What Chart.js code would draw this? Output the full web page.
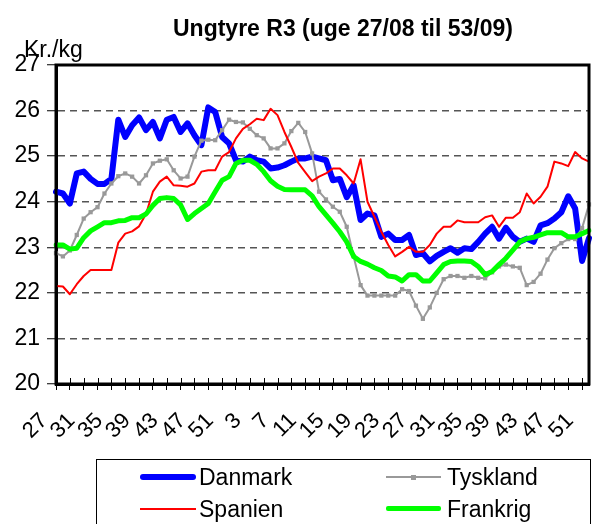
<!DOCTYPE html>
<html>
<head>
<meta charset="utf-8">
<script src="https://cdn.jsdelivr.net/npm/chart.js@4"></script>
<style>
  body { margin: 0; background: #fff; }
  #wrap { position: relative; width: 593px; height: 524px; overflow: hidden;
          font-family: "Liberation Sans", Arial, sans-serif; color: #000; }
  #chart { position: absolute; left: 0; top: 0; }
  .txt { position: absolute; font-size: 23px; line-height: 26px; white-space: nowrap; }
  .title { left: 0; width: 686px; top: 15px; text-align: center; font-weight: bold; }
  .legend { position: absolute; left: 96px; top: 459px; width: 493px; height: 90px; border: 1px solid #000; }
  .sw { position: absolute; }
</style>
</head>
<body>
<div id="wrap">
  <canvas id="chart" width="593" height="524"></canvas>
  <div class="txt title">Ungtyre R3 (uge 27/08 til 53/09)</div>
  <div class="txt" style="left:24px;top:36px">Kr./kg</div>
  <div class="legend"></div>
  <div class="sw" style="left:140px;top:474px;width:56px;height:6px;border-radius:3px;background:#0000ff"></div>
  <div class="txt" style="left:199px;top:464px">Danmark</div>
  <div class="sw" style="left:386px;top:476px;width:55px;height:2px;background:#999"></div>
  <div class="sw" style="left:411px;top:475px;width:5px;height:5px;background:#999"></div>
  <div class="txt" style="left:447px;top:464px">Tyskland</div>
  <div class="sw" style="left:140px;top:508px;width:56px;height:2px;background:#ff0000"></div>
  <div class="txt" style="left:199px;top:496px">Spanien</div>
  <div class="sw" style="left:386px;top:506px;width:55px;height:5px;border-radius:2px;background:#00ff00"></div>
  <div class="txt" style="left:447px;top:496px">Frankrig</div>
</div>
<script>
// uger 27/08 - 52/09
const weeks2008 = [27, 28, 29, 30, 31, 32, 33, 34, 35, 36, 37, 38, 39, 40, 41, 42, 43, 44, 45, 46, 47, 48, 49, 50, 51, 52];
const weeks2009 = [1, 2, 3, 4, 5, 6, 7, 8, 9, 10, 11, 12, 13, 14, 15, 16, 17, 18, 19, 20, 21, 22, 23, 24, 25, 26,
  27, 28, 29, 30, 31, 32, 33, 34, 35, 36, 37, 38, 39, 40, 41, 42, 43, 44, 45, 46, 47, 48, 49, 50, 51, 52];
const weekLabels = weeks2008.concat(weeks2009).map(String);

const danmark = [24.22, 24.18, 23.96, 24.62, 24.66, 24.5, 24.39, 24.39, 24.5, 25.8,
  25.42, 25.68, 25.85, 25.57, 25.75, 25.39, 25.8, 25.86, 25.53, 25.72,
  25.46, 25.24, 26.07, 25.97, 25.42, 25.28, 24.91, 24.88, 24.99, 24.91,
  24.88, 24.73, 24.75, 24.8, 24.88, 24.95, 24.95, 24.99, 24.95, 24.91,
  24.47, 24.5, 24.1, 24.36, 23.6, 23.74, 23.7, 23.23, 23.3, 23.16,
  23.16, 23.27, 22.83, 22.87, 22.69, 22.81, 22.9, 22.98, 22.88, 22.98,
  22.96, 23.12, 23.3, 23.45, 23.19, 23.43, 23.23, 23.12, 23.19, 23.12,
  23.48, 23.53, 23.63, 23.77, 24.12, 23.85, 22.7, 23.2];

const tyskland = [22.87, 22.8, 22.93, 23.27, 23.63, 23.77, 23.88, 24.18, 24.4, 24.56,
  24.62, 24.55, 24.4, 24.58, 24.84, 24.9, 24.93, 24.69, 24.51, 24.55,
  24.99, 25.34, 25.36, 25.35, 25.57, 25.8, 25.75, 25.74, 25.6, 25.46,
  25.39, 25.17, 25.17, 25.28, 25.55, 25.73, 25.53, 25.06, 24.22, 24.05,
  23.89, 23.78, 23.45, 22.8, 22.17, 21.94, 21.94, 21.94, 21.94, 21.94,
  22.08, 22.04, 21.72, 21.43, 21.68, 22.0, 22.3, 22.37, 22.37, 22.33,
  22.37, 22.33, 22.32, 22.45, 22.58, 22.62, 22.58, 22.55, 22.17, 22.24,
  22.42, 22.73, 22.98, 23.09, 23.18, 23.18, 23.42, 23.94];

const spanien = [22.15, 22.14, 21.97, 22.19, 22.37, 22.5, 22.5, 22.5, 22.5, 23.1,
  23.3, 23.35, 23.46, 23.73, 24.22, 24.44, 24.55, 24.36, 24.35, 24.33,
  24.4, 24.66, 24.69, 24.69, 24.99, 25.09, 25.39, 25.6, 25.7, 25.82,
  25.79, 26.04, 25.9, 25.53, 25.2, 24.85, 24.65, 24.45, 24.55, 24.62,
  24.73, 24.73, 24.58, 24.4, 24.93, 24.0, 23.67, 23.34, 23.05, 22.8,
  22.9, 23.01, 22.9, 22.9, 23.05, 23.3, 23.45, 23.45, 23.59, 23.55,
  23.55, 23.55, 23.66, 23.7, 23.45, 23.65, 23.65, 23.77, 24.18, 23.96,
  24.11, 24.33, 24.88, 24.84, 24.78, 25.09, 24.95, 24.88];

const frankrig = [23.05, 23.05, 22.96, 22.98, 23.21, 23.36, 23.45, 23.54, 23.54, 23.58,
  23.59, 23.65, 23.65, 23.73, 23.92, 24.07, 24.09, 24.07, 23.93, 23.61,
  23.74, 23.85, 23.96, 24.22, 24.47, 24.55, 24.84, 24.91, 24.91, 24.82,
  24.66, 24.46, 24.34, 24.27, 24.26, 24.26, 24.26, 24.13, 23.89, 23.71,
  23.53, 23.34, 23.12, 22.8, 22.69, 22.63, 22.55, 22.49, 22.37, 22.35,
  22.26, 22.4, 22.4, 22.26, 22.26, 22.44, 22.62, 22.69, 22.7, 22.7,
  22.69, 22.58, 22.4, 22.47, 22.62, 22.76, 22.94, 23.12, 23.19, 23.22,
  23.27, 23.32, 23.32, 23.32, 23.23, 23.23, 23.3, 23.37];

// thick frame round the plot + the small x ticks that poke up into it
const frame = {
  id: 'frame',
  afterDraw(chart) {
    const { ctx, chartArea: a } = chart;
    const x = chart.scales.x;
    ctx.save();
    ctx.strokeStyle = '#000';
    ctx.lineWidth = 1;
    ctx.beginPath();
    for (let i = 0; i < x.ticks.length; i += 2) {
      const px = Math.round(x.getPixelForTick(i)) + 0.5;
      ctx.moveTo(px, a.bottom - 6);
      ctx.lineTo(px, a.bottom);
    }
    ctx.stroke();
    ctx.lineWidth = 3;
    ctx.strokeRect(a.left, a.top, a.right - a.left, a.bottom - a.top);
    ctx.restore();
  }
};

const lineStyle = { pointRadius: 0, borderJoinStyle: 'round', borderCapStyle: 'round', tension: 0 };

new Chart(document.getElementById('chart'), {
  type: 'line',
  data: {
    labels: weekLabels,
    datasets: [
      { ...lineStyle, label: 'Danmark', data: danmark, borderColor: '#0000ff', borderWidth: 6, order: 3 },
      { ...lineStyle, label: 'Tyskland', data: tyskland, borderColor: '#999999', borderWidth: 2, order: 2,
        pointRadius: 3, pointStyle: 'rect', pointBackgroundColor: '#999999', pointBorderWidth: 0 },
      { ...lineStyle, label: 'Spanien', data: spanien, borderColor: '#ff0000', borderWidth: 2, order: 1 },
      { ...lineStyle, label: 'Frankrig', data: frankrig, borderColor: '#00ff00', borderWidth: 5, order: 0 }
    ]
  },
  options: {
    responsive: false,
    animation: false,
    layout: { padding: { top: 65, right: 2, bottom: 60, left: 0 } },
    plugins: { legend: { display: false }, title: { display: false }, tooltip: { enabled: false } },
    scales: {
      x: {
        offset: false,
        grid: {
          drawOnChartArea: false,
          tickLength: 6,
          tickWidth: 1,
          tickColor: c => (c.index % 2 === 0 ? '#000' : 'transparent')
        },
        border: { color: '#000', width: 3 },
        ticks: {
          autoSkip: false,
          minRotation: 45,
          maxRotation: 45,
          labelOffset: -12,
          padding: 18,
          color: '#000',
          font: { family: '"Liberation Sans", Arial, sans-serif', size: 22 },
          callback: (v, i) => (i % 4 === 0 ? weekLabels[i] : '')
        },
        afterFit: s => { s.height = 80; s.paddingLeft = 0; s.paddingRight = 0; }
      },
      y: {
        min: 20,
        max: 27,
        ticks: {
          stepSize: 1,
          padding: 7,
          color: '#000',
          font: { family: '"Liberation Sans", Arial, sans-serif', size: 23 }
        },
        grid: {
          color: c => (c.tick.value === 20 || c.tick.value === 27 ? 'transparent' : '#555'),
          lineWidth: 1.5,
          tickLength: 9,
          tickColor: '#000',
          tickWidth: 1
        },
        border: { color: '#000', width: 3, dash: [7, 5] },
        afterFit: s => { s.width = 56; }
      }
    }
  },
  plugins: [frame]
});
</script>
</body>
</html>
